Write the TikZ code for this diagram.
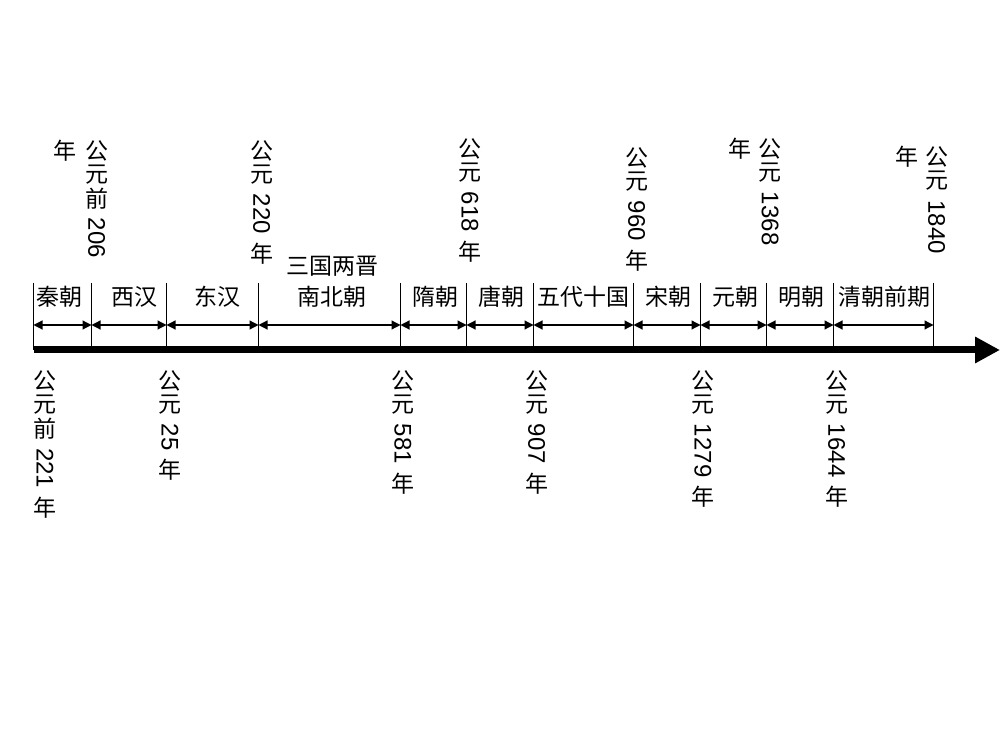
\documentclass[tikz,border=0pt]{standalone}
\usepackage{fontspec}
\usepackage{graphicx}
\newfontfamily\cjk{Noto Sans CJK SC}
\newfontfamily\numfont{Liberation Sans}
\usetikzlibrary{arrows.meta}
\newcommand\vcell[1]{\hbox to 24pt{\hss\vbox to 24pt{\vss\hbox{\cjk\fontsize{23pt}{24pt}\selectfont #1}\vss}\hss}}
\newcommand\vnum[1]{\hbox to 24pt{\hss\vbox{\vskip7.5pt\hbox{\rotatebox{-90}{\numfont\fontsize{24pt}{24pt}\selectfont #1}}\vskip7.5pt}\hss}}
\tikzset{
  period/.style={font=\cjk\fontsize{23pt}{31.5pt}\selectfont, inner sep=0pt, anchor=center, align=center},
  vlab/.style={inner sep=0pt, outer sep=0pt},
  bar/.style={line width=7pt, -{Triangle[length=25pt,width=25pt]}},
  tickline/.style={line width=1.4pt},
  span/.style={line width=1.2pt, {Triangle[length=9pt,width=9pt]}-{Triangle[length=9pt,width=9pt]}}
}
\begin{document}
\begin{tikzpicture}[x=1pt,y=1pt]
\fill[white] (0,0) rectangle (1000,750);
\useasboundingbox (0,0) rectangle (1000,750);
\foreach \i/\x in {1/33.5,2/91.5,3/166.5,4/258.5,5/400.5,6/466.5,7/533.5,8/633.5,9/700.5,10/766.5,11/833.5,12/933.5} {
  \coordinate (t\i) at (\x,467);
  \coordinate (b\i) at (\x,400);
  \coordinate (m\i) at (\x,425);
}
\coordinate (tip) at (1000,400);
\draw[bar] (b1) -- (tip);
\foreach \i in {1,...,12} \draw[tickline] (t\i) -- (b\i);
\foreach \i [evaluate=\i as \j using int(\i+1)] in {1,...,11} \draw[span] (m\i) -- (m\j);
% periods
\node[period] (p1) at (59,453) {秦朝};
\node[period] (p2) at (134,453) {西汉};
\node[period] (p3) at (217.5,453) {东汉};
\node[period] (p4) at (332,468.25) {三国两晋\\南北朝};
\node[period] (p5) at (435,453) {隋朝};
\node[period] (p6) at (501,453) {唐朝};
\node[period] (p7) at (583,453) {五代十国};
\node[period] (p8) at (668,453) {宋朝};
\node[period] (p9) at (735,453) {元朝};
\node[period] (p10) at (801.5,453) {明朝};
\node[period] (p11) at (884,453) {清朝前期};
% top dates
\node[vlab, anchor=north east] (d206) at (108.7,611.5) {\vtop{\offinterlineskip\vcell{年}}\hskip7.7pt\vtop{\offinterlineskip\vcell{公}\vcell{元}\vcell{前}\vnum{206}}};
\node[vlab, anchor=north] (d220) at (261.7,611.5) {\vbox{\offinterlineskip\vcell{公}\vcell{元}\vnum{220}\vcell{年}}};
\node[vlab, anchor=north] (d618) at (470,613.5) {\vbox{\offinterlineskip\vcell{公}\vcell{元}\vnum{618}\vcell{年}}};
\node[vlab, anchor=north] (d960) at (636.7,604.5) {\vbox{\offinterlineskip\vcell{公}\vcell{元}\vnum{960}\vcell{年}}};
\node[vlab, anchor=north east] (d1368) at (782,613.5) {\vtop{\offinterlineskip\vcell{年}}\hskip6pt\vtop{\offinterlineskip\vcell{公}\vcell{元}\vnum{1368}}};
\node[vlab, anchor=north east] (d1840) at (948.7,605) {\vtop{\offinterlineskip\vcell{年}}\hskip6pt\vtop{\offinterlineskip\vcell{公}\vcell{元}\vnum{1840}}};
% bottom dates
\node[vlab, anchor=north] (d221) at (45,381.5) {\vbox{\offinterlineskip\vcell{公}\vcell{元}\vcell{前}\vnum{221}\vcell{年}}};
\node[vlab, anchor=north] (d25) at (170,381.5) {\vbox{\offinterlineskip\vcell{公}\vcell{元}\vnum{25}\vcell{年}}};
\node[vlab, anchor=north] (d581) at (403,381.5) {\vbox{\offinterlineskip\vcell{公}\vcell{元}\vnum{581}\vcell{年}}};
\node[vlab, anchor=north] (d907) at (536.7,381.5) {\vbox{\offinterlineskip\vcell{公}\vcell{元}\vnum{907}\vcell{年}}};
\node[vlab, anchor=north] (d1279) at (703,381.5) {\vbox{\offinterlineskip\vcell{公}\vcell{元}\vnum{1279}\vcell{年}}};
\node[vlab, anchor=north] (d1644) at (836.7,381.5) {\vbox{\offinterlineskip\vcell{公}\vcell{元}\vnum{1644}\vcell{年}}};
\end{tikzpicture}
\end{document}
